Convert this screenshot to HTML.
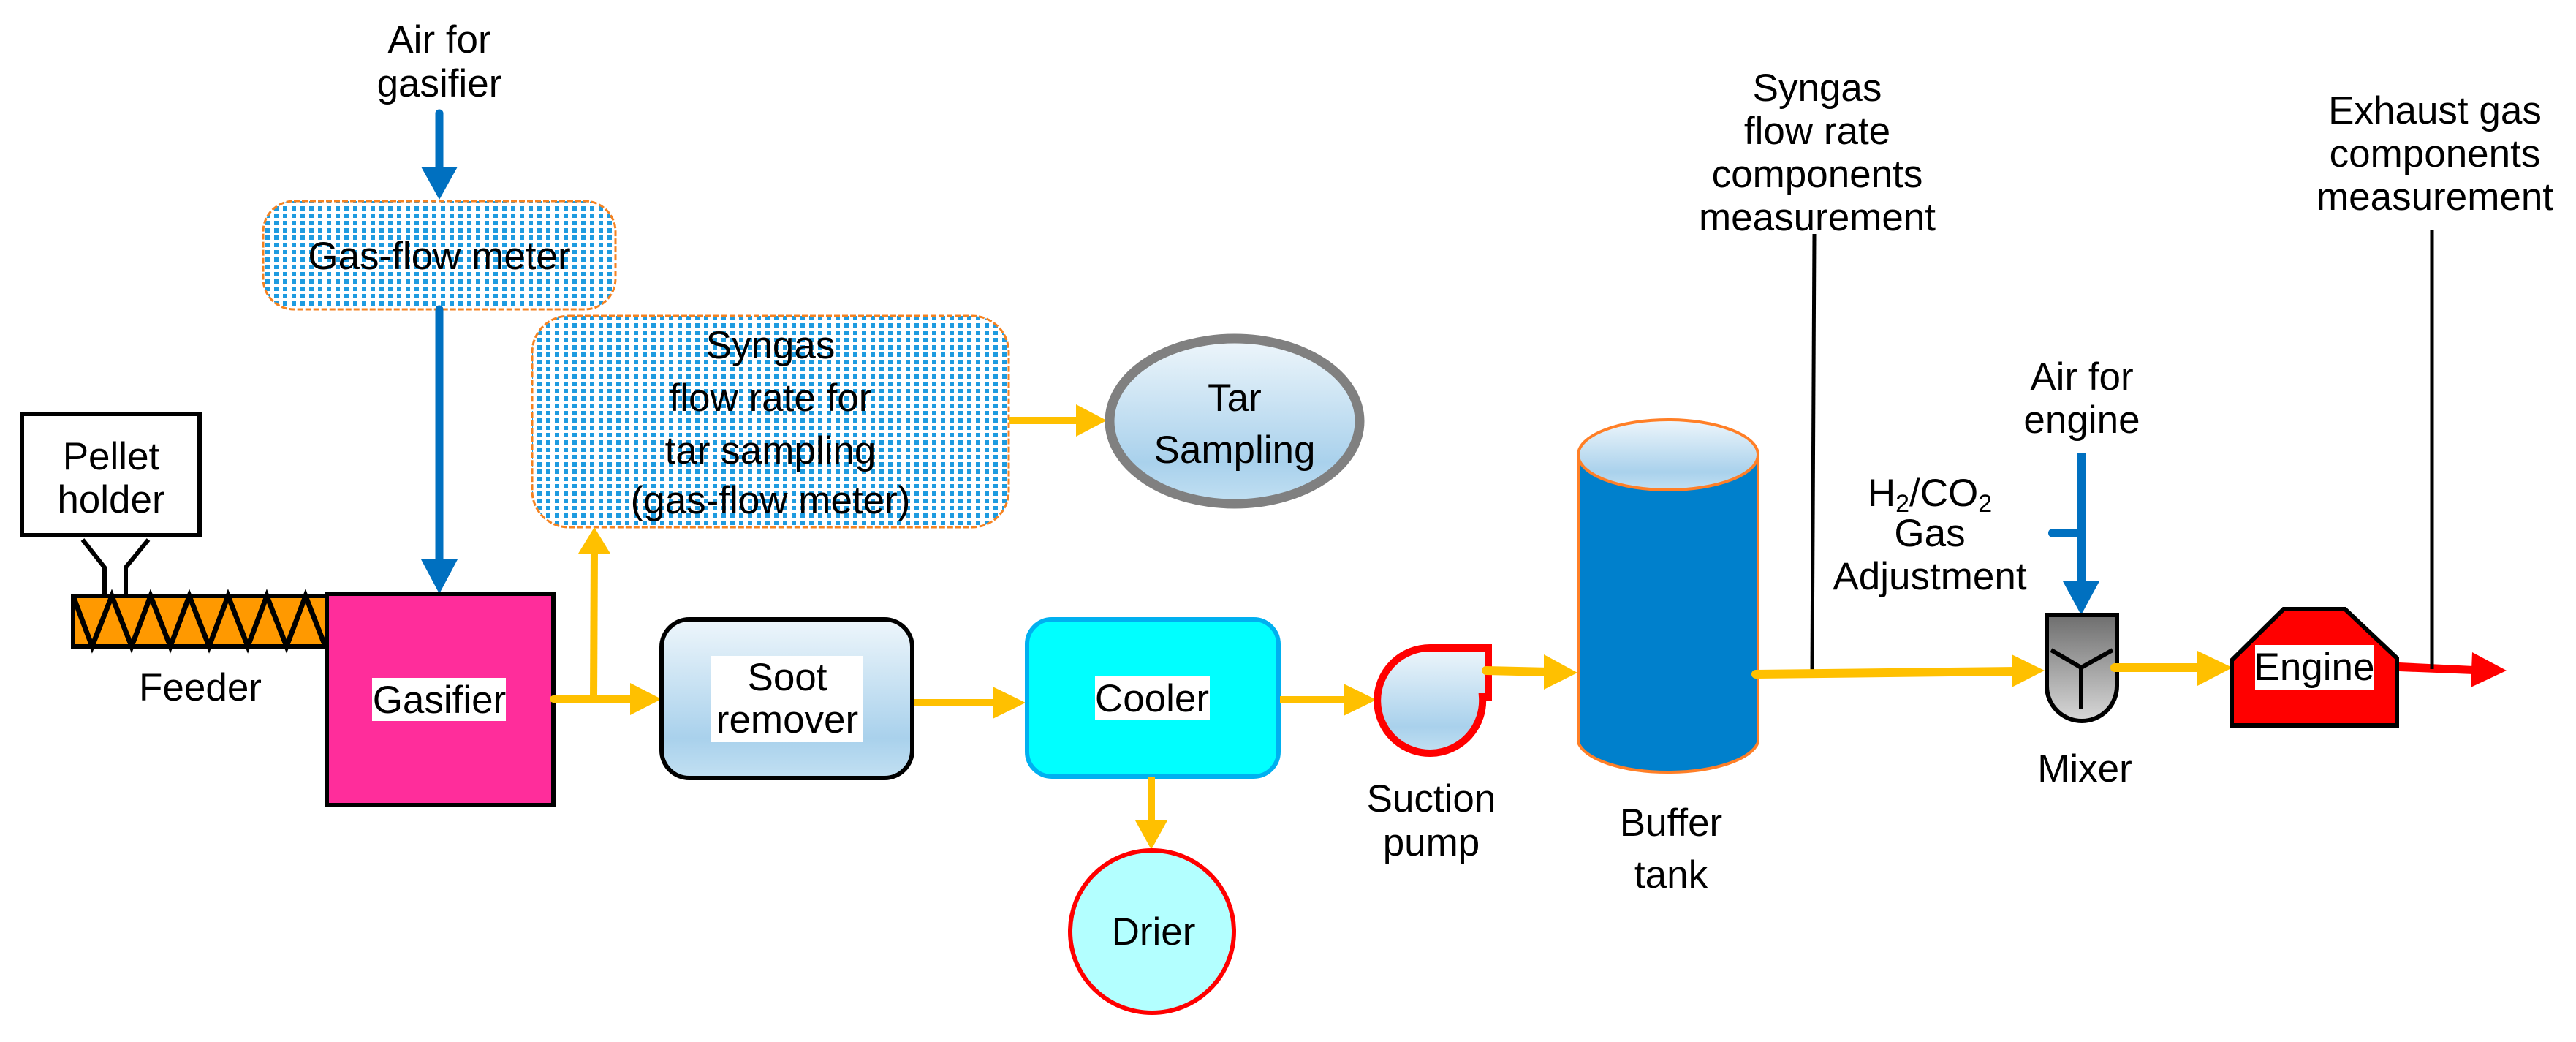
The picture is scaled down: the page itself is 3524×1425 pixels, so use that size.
<!DOCTYPE html>
<html><head><meta charset="utf-8"><style>
html,body{margin:0;padding:0;background:#fff;}
svg{display:block;}
text{font-family:"Liberation Sans",sans-serif;font-size:53px;fill:#000;text-anchor:middle;}
</style></head><body>
<svg width="3524" height="1425" viewBox="0 0 3524 1425" xmlns="http://www.w3.org/2000/svg">
<defs>
<pattern id="dots" width="12" height="10" patternUnits="userSpaceOnUse">
<rect width="12" height="10" fill="#fff"/>
<rect x="3" y="2" width="6" height="6" fill="#1E9BE0"/>
</pattern>
<linearGradient id="lb" x1="0" y1="0" x2="0" y2="1">
<stop offset="0" stop-color="#EEF6FB"/><stop offset="0.75" stop-color="#A9D1EC"/><stop offset="1" stop-color="#C2E0F2"/>
</linearGradient>
<linearGradient id="gr" x1="0" y1="0" x2="0" y2="1">
<stop offset="0" stop-color="#6E6E6E"/><stop offset="1" stop-color="#D8D8D8"/>
</linearGradient>
</defs>

<text x="601" y="72">Air for</text>
<text x="601" y="132">gasifier</text>

<line x1="601" y1="155" x2="601" y2="240" stroke="#0070C0" stroke-width="11" stroke-linecap="round"/>
<polygon points="576,228 626,228 601,273" fill="#0070C0"/>

<rect x="360" y="275" width="482" height="148" rx="42" fill="url(#dots)" stroke="#F58220" stroke-width="3" stroke-dasharray="8,3"/>
<text x="601" y="368">Gas-flow meter</text>

<line x1="601" y1="423" x2="601" y2="775" stroke="#0070C0" stroke-width="11" stroke-linecap="round"/>
<polygon points="576,765 626,765 601,812" fill="#0070C0"/>

<rect x="728" y="432" width="652" height="289" rx="50" fill="url(#dots)" stroke="#F58220" stroke-width="3" stroke-dasharray="8,3"/>
<text x="1054" y="490">Syngas</text>
<text x="1054" y="562">flow rate for</text>
<text x="1054" y="634">tar sampling</text>
<text x="1054" y="702">(gas-flow meter)</text>

<line x1="1380" y1="575" x2="1480" y2="575" stroke="#FFC000" stroke-width="10"/>
<polygon points="1472,553 1472,597 1514,575" fill="#FFC000"/>
<ellipse cx="1689" cy="576" rx="171" ry="113" fill="url(#lb)" stroke="#808080" stroke-width="13"/>
<text x="1689" y="562">Tar</text>
<text x="1689" y="633">Sampling</text>

<rect x="30" y="566" width="243" height="166" fill="#fff" stroke="#000" stroke-width="6"/>
<text x="152" y="642">Pellet</text>
<text x="152" y="701">holder</text>
<polyline points="113,738 143,776 143,813" fill="none" stroke="#000" stroke-width="6"/>
<polyline points="203,738 172,776 172,813" fill="none" stroke="#000" stroke-width="6"/>

<rect x="100" y="815" width="347" height="69" fill="#FF9900" stroke="#000" stroke-width="6"/>
<polyline points="100,815 126,884 153,815 180,884 206,815 233,884 259,815 286,884 312,815 339,884 365,815 392,884 418,815 445,884" fill="none" stroke="#000" stroke-width="7"/>
<text x="274" y="958">Feeder</text>

<rect x="447" y="812" width="310" height="289" fill="#FF2D9B" stroke="#000" stroke-width="6"/>
<rect x="509" y="927" width="183" height="59" fill="#fff"/>
<text x="601" y="975">Gasifier</text>

<line x1="757" y1="956" x2="870" y2="956" stroke="#FFC000" stroke-width="10" stroke-linecap="round"/>
<polygon points="862,934 862,978 905,956" fill="#FFC000"/>
<line x1="812" y1="956" x2="813" y2="750" stroke="#FFC000" stroke-width="10"/>
<polygon points="791,757 835,757 813,721" fill="#FFC000"/>

<rect x="905" y="847" width="343" height="217" rx="38" fill="url(#lb)" stroke="#000" stroke-width="6"/>
<rect x="973" y="897" width="208" height="118" fill="#fff"/>
<text x="1077" y="944">Soot</text>
<text x="1077" y="1002">remover</text>

<line x1="1250" y1="961" x2="1365" y2="961" stroke="#FFC000" stroke-width="10"/>
<polygon points="1358,939 1358,983 1403,961" fill="#FFC000"/>

<rect x="1405" y="847" width="344" height="215" rx="34" fill="#00FFFF" stroke="#00B0F0" stroke-width="6"/>
<rect x="1498" y="924" width="157" height="60" fill="#fff"/>
<text x="1576" y="973">Cooler</text>

<line x1="1575" y1="1062" x2="1575" y2="1125" stroke="#FFC000" stroke-width="10"/>
<polygon points="1553,1122 1597,1122 1575,1162" fill="#FFC000"/>
<ellipse cx="1576" cy="1274" rx="112" ry="111" fill="#B3FFFF" stroke="#FF0000" stroke-width="6"/>
<text x="1578" y="1292">Drier</text>

<line x1="1751" y1="957" x2="1840" y2="957" stroke="#FFC000" stroke-width="10"/>
<polygon points="1838,935 1838,979 1883,957" fill="#FFC000"/>

<path d="M1957,886 L2036,886 L2036,953 L2028,953 A72,72 0 1 1 1957,886 Z" fill="url(#lb)" stroke="#FF0000" stroke-width="10"/>
<text x="1958" y="1110">Suction</text>
<text x="1958" y="1170">pump</text>
<line x1="2033" y1="917" x2="2120" y2="919" stroke="#FFC000" stroke-width="12" stroke-linecap="round"/>
<polygon points="2112,895 2112,943 2158,920" fill="#FFC000"/>

<path d="M2159,622 L2159,1015 A124,47 0 0 0 2405,1015 L2405,622 Z" fill="#0080CC" stroke="#FF7F27" stroke-width="4"/>
<ellipse cx="2282" cy="622" rx="123" ry="48" fill="url(#lb)" stroke="#FF7F27" stroke-width="4"/>
<text x="2286" y="1143">Buffer</text>
<text x="2286" y="1214">tank</text>

<text x="2486" y="138">Syngas</text>
<text x="2486" y="197">flow rate</text>
<text x="2486" y="256">components</text>
<text x="2486" y="315">measurement</text>
<line x1="2482" y1="320" x2="2479" y2="919" stroke="#000" stroke-width="5"/>

<line x1="2402" y1="922" x2="2760" y2="918" stroke="#FFC000" stroke-width="12" stroke-linecap="round"/>
<polygon points="2752,895 2752,940 2797,917" fill="#FFC000"/>

<text x="2640" y="692">H<tspan font-size="34" dy="8">2</tspan><tspan dy="-8">/CO</tspan><tspan font-size="34" dy="8">2</tspan></text>
<text x="2640" y="747">Gas</text>
<text x="2640" y="806">Adjustment</text>

<text x="2848" y="533">Air for</text>
<text x="2848" y="592">engine</text>
<line x1="2847" y1="620" x2="2847" y2="800" stroke="#0070C0" stroke-width="12"/>
<line x1="2808" y1="729" x2="2847" y2="729" stroke="#0070C0" stroke-width="12" stroke-linecap="round"/>
<polygon points="2822,795 2872,795 2847,841" fill="#0070C0"/>

<path d="M2800,841 L2896,841 L2896,938 A48,48 0 0 1 2800,938 Z" fill="url(#gr)" stroke="#000" stroke-width="6"/>
<polyline points="2806,889 2847,913 2890,889" fill="none" stroke="#000" stroke-width="6"/>
<line x1="2847" y1="913" x2="2847" y2="970" stroke="#000" stroke-width="6"/>
<text x="2852" y="1069">Mixer</text>

<line x1="2893" y1="913" x2="3010" y2="913" stroke="#FFC000" stroke-width="12" stroke-linecap="round"/>
<polygon points="3006,890 3006,938 3054,913" fill="#FFC000"/>

<polygon points="3053,903 3124,833 3208,833 3279,900 3279,992 3053,992" fill="#FF0000" stroke="#000" stroke-width="6"/>
<rect x="3085" y="882" width="162" height="61" fill="#fff"/>
<text x="3166" y="930">Engine</text>

<polygon points="3282,906 3384,911 3384,922 3282,918" fill="#FF0000"/>
<polygon points="3382,892 3380,940 3429,917" fill="#FF0000"/>

<text x="3331" y="169">Exhaust gas</text>
<text x="3331" y="228">components</text>
<text x="3331" y="287">measurement</text>
<line x1="3327" y1="314" x2="3327" y2="915" stroke="#000" stroke-width="5"/>
</svg>
</body></html>
